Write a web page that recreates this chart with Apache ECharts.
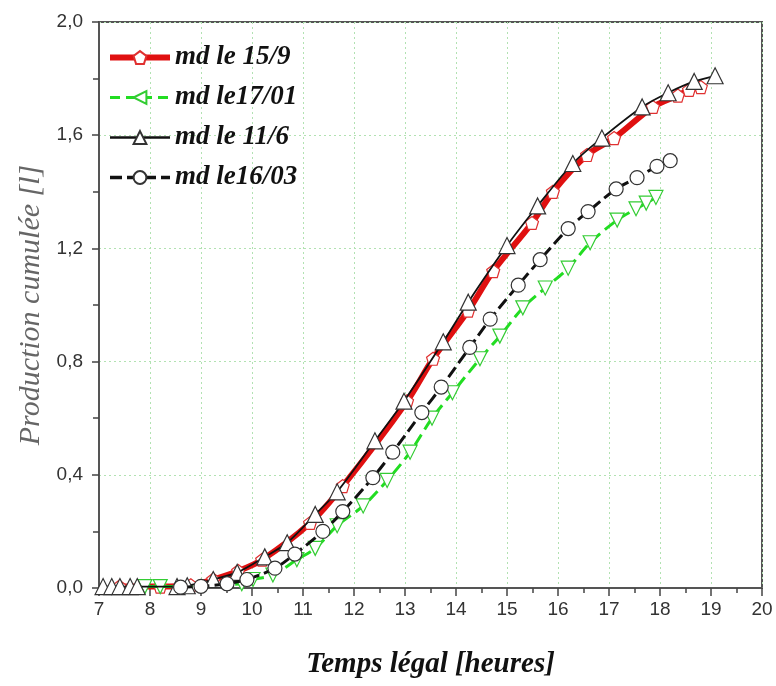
<!DOCTYPE html>
<html>
<head>
<meta charset="utf-8">
<script src="https://cdn.jsdelivr.net/npm/echarts@6/dist/echarts.min.js"></script>
<style>html,body{margin:0;padding:0;background:#fff}#c{width:776px;height:686px}</style>
</head>
<body>
<div id="c"></div>
<script>
// Series names
var seriesNames = ['md le 15/9', 'md le17/01', 'md le 11/6', 'md le16/03'];

// md le 15/9 (red)
var t159 = [7.4, 8.2, 8.8, 9.24, 9.73, 10.2, 11.14, 11.78, 13.04, 13.55, 14.24, 14.73, 15.49, 15.9, 16.57, 17.1, 17.86, 18.35, 18.57, 18.8];
var v159 = [0.005, 0.005, 0.01, 0.03, 0.06, 0.10, 0.23, 0.36, 0.66, 0.81, 0.98, 1.12, 1.29, 1.40, 1.53, 1.59, 1.70, 1.74, 1.76, 1.77];

// md le17/01 (green)
var t1701 = [7.9, 8.2, 9.8, 10.02, 10.41, 10.88, 11.24, 11.67, 12.18, 12.65, 13.1, 13.53, 13.93, 14.47, 14.86, 15.31, 15.75, 16.2, 16.63, 17.16, 17.53, 17.73, 17.92];
var v1701 = [0.005, 0.005, 0.015, 0.03, 0.046, 0.10, 0.14, 0.22, 0.29, 0.38, 0.48, 0.60, 0.69, 0.81, 0.89, 0.99, 1.06, 1.13, 1.22, 1.30, 1.34, 1.36, 1.38];

// md le 11/6 (black, triangles)
var t116 = [7.08, 7.25, 7.41, 7.61, 7.75, 8.53, 8.73, 9.24, 9.71, 10.25, 10.69, 11.24, 11.67, 12.41, 12.98, 13.75, 14.24, 15.0, 15.6, 16.29, 16.86, 17.65, 18.16, 18.67, 19.08];
var v116 = [0.005, 0.005, 0.005, 0.005, 0.005, 0.005, 0.008, 0.03, 0.055, 0.11, 0.16, 0.26, 0.34, 0.52, 0.66, 0.87, 1.01, 1.21, 1.35, 1.50, 1.59, 1.70, 1.75, 1.79, 1.81];

// md le16/03 (black dashed, circles)
var t1603 = [8.6, 9.0, 9.51, 9.9, 10.45, 10.84, 11.39, 11.78, 12.37, 12.76, 13.33, 13.71, 14.27, 14.67, 15.22, 15.65, 16.2, 16.59, 17.14, 17.55, 17.94, 18.2];
var v1603 = [0.003, 0.006, 0.015, 0.03, 0.07, 0.12, 0.20, 0.27, 0.39, 0.48, 0.62, 0.71, 0.85, 0.95, 1.07, 1.16, 1.27, 1.33, 1.41, 1.45, 1.49, 1.51];

function zip(a, b) { return a.map(function (x, i) { return [x, b[i]]; }); }

var pentagon = 'path://M0,-10 L9.51,-3.09 L5.88,8.09 L-5.88,8.09 L-9.51,-3.09 Z';
var serif = '"Liberation Serif", "DejaVu Serif", serif';

var chart = echarts.init(document.getElementById('c'), null, {renderer: 'canvas'});
chart.setOption({
  animation: false,
  backgroundColor: '#fff',
  grid: {left: 99, right: 14, top: 22, bottom: 98, show: true, borderColor: '#555', borderWidth: 2},
  legend: {
    orient: 'vertical', left: 102, top: 39, itemGap: 13, itemWidth: 60, itemHeight: 16,
    textStyle: {fontFamily: serif, fontStyle: 'italic', fontWeight: 'bold', fontSize: 27, color: '#111'},
    data: [
      {name: seriesNames[0], lineStyle: {width: 6, color: '#e01010'}},
      {name: seriesNames[1], symbolRotate: 90, lineStyle: {width: 3, color: '#22dd22', type: [10, 6]}},
      {name: seriesNames[2], lineStyle: {width: 2.5, color: '#111'}},
      {name: seriesNames[3], lineStyle: {width: 3.5, color: '#111'}}
    ]
  },
  xAxis: {
    type: 'value', min: 7, max: 20, interval: 1,
    name: 'Temps légal [heures]', nameLocation: 'middle', nameGap: 62,
    nameTextStyle: {fontFamily: serif, fontStyle: 'italic', fontWeight: 'bold', fontSize: 29, color: '#111'},
    axisLine: {lineStyle: {color: '#555', width: 2}},
    axisTick: {inside: false, length: 8, lineStyle: {color: '#444', width: 1.5}},
    minorTick: {show: true, splitNumber: 2, length: 5, lineStyle: {color: '#444', width: 1.5}},
    axisLabel: {margin: 12, fontFamily: '"Liberation Sans", Arial, sans-serif', fontSize: 19, color: '#333'},
    splitLine: {show: true, lineStyle: {color: '#b2e2b2', type: [2, 3], width: 1}}
  },
  yAxis: {
    type: 'value', min: 0, max: 2, interval: 0.4,
    name: 'Production cumulée [l]', nameLocation: 'middle', nameGap: 48,
    nameTextStyle: {fontFamily: serif, fontStyle: 'italic', fontSize: 30, color: '#666'},
    axisLine: {lineStyle: {color: '#555', width: 2}},
    axisTick: {inside: false, length: 7, lineStyle: {color: '#444', width: 1.5}},
    minorTick: {show: true, splitNumber: 2, length: 6, lineStyle: {color: '#444', width: 1.5}},
    axisLabel: {margin: 16, fontFamily: '"Liberation Sans", Arial, sans-serif', fontSize: 19, color: '#333',
      formatter: function (v) { return v.toFixed(1).replace('.', ','); }},
    splitLine: {show: true, lineStyle: {color: '#b2e2b2', type: [2, 3], width: 1}}
  },
  series: [
    {
      name: seriesNames[0], type: 'line', data: zip(t159, v159), smooth: 0.3,
      symbol: pentagon, symbolSize: 13, showAllSymbol: true,
      lineStyle: {color: '#e01010', width: 6},
      itemStyle: {color: '#fff', borderColor: '#e03030', borderWidth: 1.2},
      z: 2
    },
    {
      name: seriesNames[1], type: 'line', data: zip(t1701, v1701), smooth: 0.3,
      symbol: 'triangle', symbolRotate: 180, symbolSize: 14, showAllSymbol: true,
      lineStyle: {color: '#22dd22', width: 3, type: [12, 6]},
      itemStyle: {color: '#fff', borderColor: '#33cc33', borderWidth: 1.2},
      z: 3
    },
    {
      name: seriesNames[2], type: 'line', data: zip(t116, v116), smooth: 0.3,
      symbol: 'triangle', symbolSize: 16, showAllSymbol: true,
      lineStyle: {color: '#111', width: 1.8},
      itemStyle: {color: '#fff', borderColor: '#333', borderWidth: 1.2},
      z: 4
    },
    {
      name: seriesNames[3], type: 'line', data: zip(t1603, v1603), smooth: 0.3,
      symbol: 'circle', symbolSize: 14, showAllSymbol: true,
      lineStyle: {color: '#111', width: 3, type: [12, 5]},
      itemStyle: {color: '#fff', borderColor: '#333', borderWidth: 1.2},
      z: 5
    }
  ]
});
</script>
</body>
</html>
